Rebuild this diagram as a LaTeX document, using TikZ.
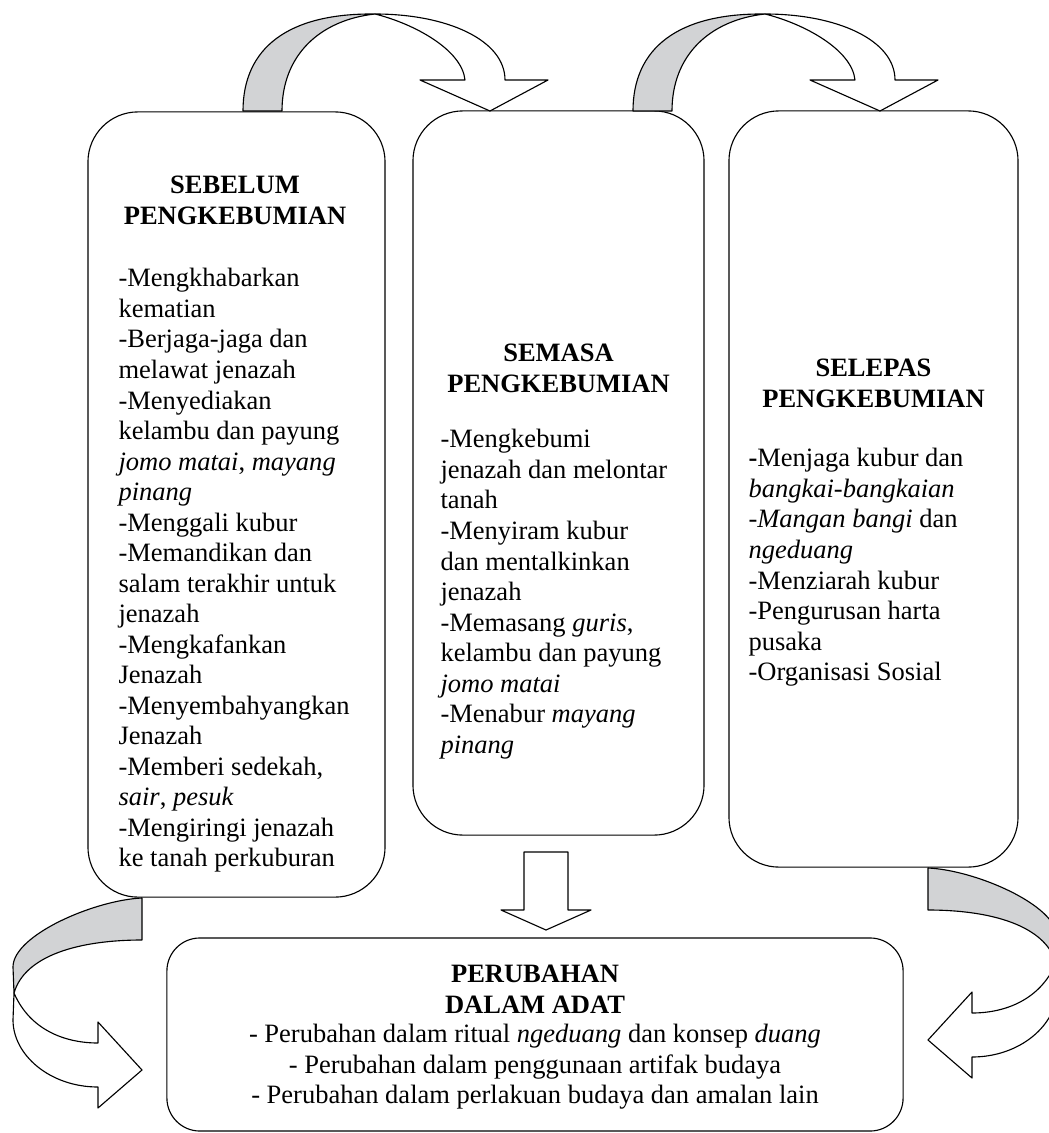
\documentclass[tikz,border=0pt]{standalone}
\usepackage{fontspec}
\setmainfont{Liberation Serif}
\usepackage{tikz}

\definecolor{ribbongray}{RGB}{210,211,213}
\newcommand{\boxfont}{\fontsize{18.85pt}{21.7pt}\selectfont}

\begin{document}
\begin{tikzpicture}[x=0.025cm, y=-0.025cm, line width=0.8pt, line join=round,
  box/.style={draw, rounded corners=1.25cm, inner sep=0pt},
  heading/.style={font=\boxfont\bfseries, align=center, anchor=north, inner sep=0pt},
  items/.style={font=\boxfont, align=left, anchor=north west, inner sep=0pt},
  ribbon/.style={draw, fill=ribbongray},
  hollow/.style={draw, fill=white}]
  \useasboundingbox (0,0) rectangle (1048,1133);

  % the four stages
  \node[box, minimum width=7.425cm, minimum height=19.625cm] (sebelum) at (236.5,504.5) {};
  \node[box, minimum width=7.275cm, minimum height=18.1cm] (semasa) at (558.5,473) {};
  \node[box, minimum width=7.225cm, minimum height=18.9cm] (selepas) at (873.5,489) {};
  \node[box, rounded corners=0.825cm, minimum width=18.4cm, minimum height=4.825cm] (perubahan) at (535,1034.5) {};

  \node[heading] (sebelumtitle) at (235,175.5) {SEBELUM\\PENGKEBUMIAN};
  \node[items] (sebelumlist) at (118,268) {-Mengkhabarkan\\kematian\\-Berjaga-jaga dan\\melawat jenazah\\-Menyediakan\\kelambu dan payung\\\textit{jomo matai}, \textit{mayang}\\\textit{pinang}\\-Menggali kubur\\-Memandikan dan\\salam terakhir untuk\\jenazah\\-Mengkafankan\\Jenazah\\-Menyembahyangkan\\Jenazah\\-Memberi sedekah,\\\textit{sair}, \textit{pesuk}\\-Mengiringi jenazah\\ke tanah perkuburan};

  \node[heading] (semasatitle) at (558.5,343.5) {SEMASA\\PENGKEBUMIAN};
  \node[items] (semasalist) at (440,429) {-Mengkebumi\\jenazah dan melontar\\tanah\\-Menyiram kubur\\dan mentalkinkan\\jenazah\\-Memasang \textit{guris},\\kelambu dan payung\\\textit{jomo matai}\\-Menabur \textit{mayang}\\\textit{pinang}};

  \node[heading] (selepastitle) at (873.5,358.5) {SELEPAS\\PENGKEBUMIAN};
  \node[items] (selepaslist) at (748,448) {\textbf{-}Menjaga kubur dan\\\textit{bangkai-bangkaian}\\-\textit{Mangan bangi} dan\\\textit{ngeduang}\\-Menziarah kubur\\-Pengurusan harta\\pusaka\\-Organisasi Sosial};

  \node[heading] (perubahantitle) at (535,964.5) {PERUBAHAN\\DALAM ADAT};
  \node[items, align=center, anchor=north] (perubahanlist) at (535,1024) {- Perubahan dalam ritual \textit{ngeduang} dan konsep \textit{duang}\\- Perubahan dalam penggunaan artifak budaya\\- Perubahan dalam perlakuan budaya dan amalan lain};

  % twisted arrows over the top
  \foreach \dx in {0,390} {
    \begin{scope}[shift={(\dx,0)}]
      \filldraw[ribbon] (243,111) .. controls (243,48) and (288,13) .. (375,14)
        .. controls (320,20) and (282,55) .. (282,111) -- cycle;
      \filldraw[hollow] (375,14) .. controls (447,14) and (505,40) .. (505,80)
        -- (548,80) -- (490,111) -- (420,80) -- (465,80)
        .. controls (462,50) and (415,24) .. (375,14) -- cycle;
    \end{scope}
  }

  % down arrow
  \filldraw[hollow] (524,852) -- (568,852) -- (568,910) -- (591,910) -- (546,930) -- (501,910) -- (524,910) -- cycle;

  % twisted arrows to the bottom box
  \foreach \sx/\dx/\dy in {1/0/0, -1/1070/-30} {
    \begin{scope}[shift={(\dx,\dy)}, xscale=\sx]
      \filldraw[ribbon] (142,898) .. controls (95,900) and (13,935) .. (13,967)
        -- (14,993) .. controls (25,955) and (80,940) .. (142,940) -- cycle;
      \filldraw[hollow] (14,993) .. controls (30,1030) and (65,1043) .. (98,1043)
        -- (98,1022) -- (142,1070) -- (98,1108) -- (98,1087)
        .. controls (50,1087) and (13,1055) .. (13,1020) -- cycle;
    \end{scope}
  }
\end{tikzpicture}
\end{document}
